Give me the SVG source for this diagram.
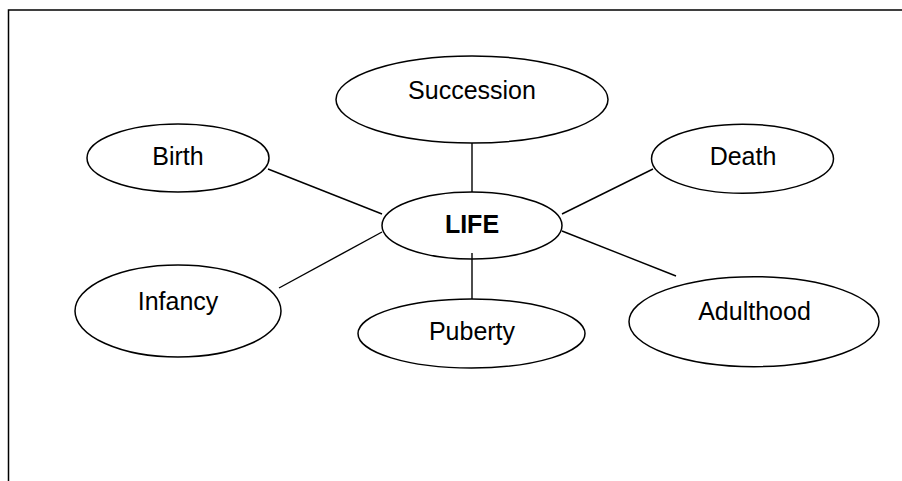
<svg xmlns="http://www.w3.org/2000/svg" width="902" height="481" viewBox="0 0 902 481">
<style>
.n{fill:#fff;stroke:#000;stroke-width:1.5}
.t{font-family:"Liberation Sans",Arial,sans-serif;font-size:25px;fill:#000;text-anchor:middle}
.b{font-weight:bold}
.c line{stroke:#000;stroke-width:1.4}
</style>
<rect width="902" height="481" fill="#fff"/>
<g id="frame" fill="none" stroke="#000" stroke-width="1.5">
<polyline points="8.5,481 8.5,10 902,10"/>
</g>
<g class="c" id="connectors">
<line x1="472" y1="143" x2="472" y2="192"/>
<line x1="472" y1="253" x2="472" y2="299"/>
<line x1="268" y1="169" x2="382" y2="214"/>
<line x1="279" y1="288" x2="382" y2="232"/>
<line x1="562" y1="214" x2="653" y2="169"/>
<line x1="562" y1="231" x2="676" y2="276"/>
</g>
<g id="succession"><ellipse class="n" cx="472" cy="99.5" rx="136" ry="43.5"/><text class="t" x="472" y="99">Succession</text></g>
<g id="birth"><ellipse class="n" cx="178" cy="158" rx="91" ry="34"/><text class="t" x="178" y="165">Birth</text></g>
<g id="death"><ellipse class="n" cx="742.5" cy="158.7" rx="91" ry="34.5"/><text class="t" x="743" y="165">Death</text></g>
<g id="life"><ellipse class="n" cx="472" cy="225.5" rx="90" ry="33.5"/><text class="t b" x="472" y="233">LIFE</text></g>
<g id="infancy"><ellipse class="n" cx="178" cy="311" rx="103" ry="46"/><text class="t" x="178" y="310">Infancy</text></g>
<g id="puberty"><ellipse class="n" cx="471.5" cy="333.5" rx="113.5" ry="34.5"/><text class="t" x="472" y="340">Puberty</text></g>
<g id="adulthood"><ellipse class="n" cx="754" cy="321.7" rx="125" ry="45"/><text class="t" x="754.5" y="320">Adulthood</text></g>
<g class="c"><line x1="472" y1="253" x2="472" y2="259"/></g>
</svg>
